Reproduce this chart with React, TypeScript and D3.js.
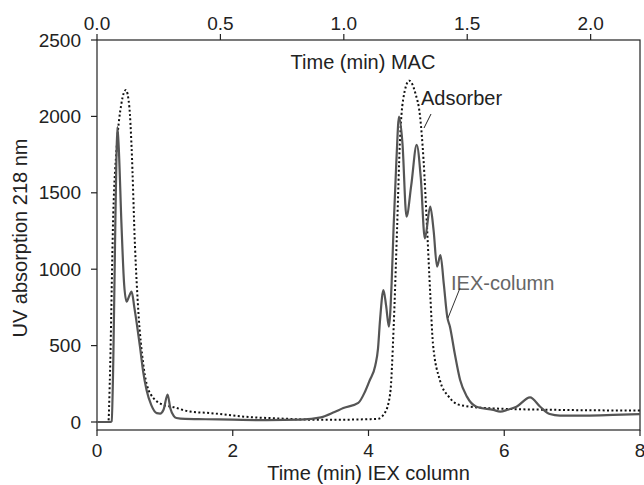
import React from "react";
import * as d3 from "d3";

// IEX-column trace (bottom axis, time in min)
const iexTime = [0, 0.2, 0.216, 0.24, 0.265, 0.285, 0.3, 0.32, 0.36, 0.4, 0.437, 0.47, 0.51, 0.55, 0.6, 0.633, 0.68, 0.73, 0.8, 0.88, 0.93, 0.98, 1.04, 1.08, 1.13, 1.17, 1.3, 1.6, 2.0, 2.5, 3.0, 3.3, 3.5, 3.63, 3.85, 3.95, 4.02, 4.1, 4.14, 4.17, 4.22, 4.26, 4.3, 4.34, 4.37, 4.41, 4.45, 4.5, 4.56, 4.63, 4.71, 4.77, 4.83, 4.91, 4.96, 5.01, 5.06, 5.11, 5.16, 5.2, 5.27, 5.35, 5.45, 5.59, 5.84, 5.94, 6.05, 6.18, 6.38, 6.53, 6.67, 6.82, 7.2, 7.6, 8.0];
const iexUV = [0, 0, 5, 400, 1147, 1700, 1930, 1800, 1300, 900, 787, 820, 853, 750, 600, 493, 330, 209, 110, 58, 55, 80, 180, 90, 40, 26, 20, 18, 15, 12, 15, 30, 65, 91, 125, 200, 275, 370, 480, 667, 864, 760, 624, 900, 1278, 1700, 1998, 1826, 1344, 1550, 1813, 1600, 1202, 1409, 1250, 1016, 1093, 900, 689, 624, 450, 275, 166, 100, 79, 68, 80, 100, 161, 100, 52, 42, 42, 46, 52];

// Adsorber trace (top axis, MAC time in min)
const macTime = [0, 0.046, 0.052, 0.066, 0.08, 0.099, 0.117, 0.131, 0.14, 0.154, 0.168, 0.187, 0.215, 0.27, 0.303, 0.377, 0.454, 0.605, 0.756, 0.908, 1.136, 1.166, 1.188, 1.202, 1.216, 1.227, 1.24, 1.265, 1.29, 1.309, 1.323, 1.337, 1.35, 1.361, 1.389, 1.425, 1.471, 1.606, 1.876, 2.2];
const macUV = [0, 0, 275, 1366, 1802, 2085, 2173, 2063, 1802, 1147, 713, 384, 188, 111, 100, 68, 59, 34, 22, 14, 20, 59, 188, 624, 1278, 1824, 2107, 2234, 2151, 1998, 1715, 1278, 842, 515, 275, 166, 111, 89, 79, 75];

const yTicks = [0, 500, 1000, 1500, 2000, 2500];
const bottomTicks = [0, 2, 4, 6, 8];
const topTicks = [0, 0.5, 1.0, 1.5, 2.0];

const W = 644;
const H = 485;
const left = 97;
const right = 640;
const top = 40;
const bottom = 430;

export default function App() {
  const x = d3.scaleLinear().domain([0, 8]).range([left, right]);
  const xTop = d3.scaleLinear().domain([0, 2.2]).range([left, right]);
  const y = d3.scaleLinear().domain([0, 2500]).range([422, top]);

  const iexLine = d3
    .line<number>()
    .x((_, i) => x(iexTime[i]))
    .y((d) => y(d))
    .curve(d3.curveMonotoneX);
  const macLine = d3
    .line<number>()
    .x((_, i) => xTop(macTime[i]))
    .y((d) => y(d))
    .curve(d3.curveMonotoneX);

  const font = "Liberation Sans, Arial, Helvetica, sans-serif";
  const axisColor = "#222";

  return (
    <svg
      width={W}
      height={H}
      style={{ position: "absolute", left: 0, top: 0, background: "#fff" }}
      fontFamily={font}
    >
      <rect x={0} y={0} width={W} height={H} fill="#fff" />
      {/* frame */}
      <rect x={left} y={top} width={right - left} height={bottom - top} fill="none" stroke={axisColor} strokeWidth={1.2} />

      {/* y ticks */}
      {yTicks.map((t) => (
        <g key={"y" + t}>
          <line x1={left - 6} x2={left} y1={y(t)} y2={y(t)} stroke={axisColor} strokeWidth={1.2} />
          <text x={81} y={y(t)} dy="0.35em" textAnchor="end" fontSize={19} fill={axisColor}>
            {t}
          </text>
        </g>
      ))}

      {/* bottom ticks */}
      {bottomTicks.map((t) => (
        <g key={"b" + t}>
          <line x1={x(t)} x2={x(t)} y1={bottom} y2={bottom + 6} stroke={axisColor} strokeWidth={1.2} />
          <text x={x(t)} y={457} textAnchor="middle" fontSize={19} fill={axisColor}>
            {t}
          </text>
        </g>
      ))}

      {/* top ticks */}
      {topTicks.map((t) => (
        <g key={"t" + t}>
          <line x1={xTop(t)} x2={xTop(t)} y1={top} y2={top - 6} stroke={axisColor} strokeWidth={1.2} />
          <text x={xTop(t)} y={30} textAnchor="middle" fontSize={19} fill={axisColor}>
            {t.toFixed(1)}
          </text>
        </g>
      ))}

      {/* axis titles */}
      <text x={(left + right) / 2} y={480} textAnchor="middle" fontSize={20} fill={axisColor}>
        Time (min) IEX column
      </text>
      <text x={363} y={69} textAnchor="middle" fontSize={20} fill={axisColor}>
        Time (min) MAC
      </text>
      <text
        transform={`translate(27, 238) rotate(-90)`}
        textAnchor="middle"
        fontSize={20}
        fill={axisColor}
      >
        UV absorption 218 nm
      </text>

      {/* series */}
      <path d={macLine(macUV) || ""} fill="none" stroke="#111" strokeWidth={2} strokeDasharray="2 2.4" />
      <path d={iexLine(iexUV) || ""} fill="none" stroke="#555" strokeWidth={2.2} strokeLinejoin="round" />

      {/* annotations */}
      <text x={421} y={105} fontSize={20} fill="#222">
        Adsorber
      </text>
      <line x1={431} y1={114} x2={424} y2={128} stroke="#222" strokeWidth={1} />
      <text x={451} y={290} fontSize={20} fill="#666">
        IEX-column
      </text>
      <line x1={460} y1={288} x2={448} y2={318} stroke="#333" strokeWidth={1} />
    </svg>
  );
}
